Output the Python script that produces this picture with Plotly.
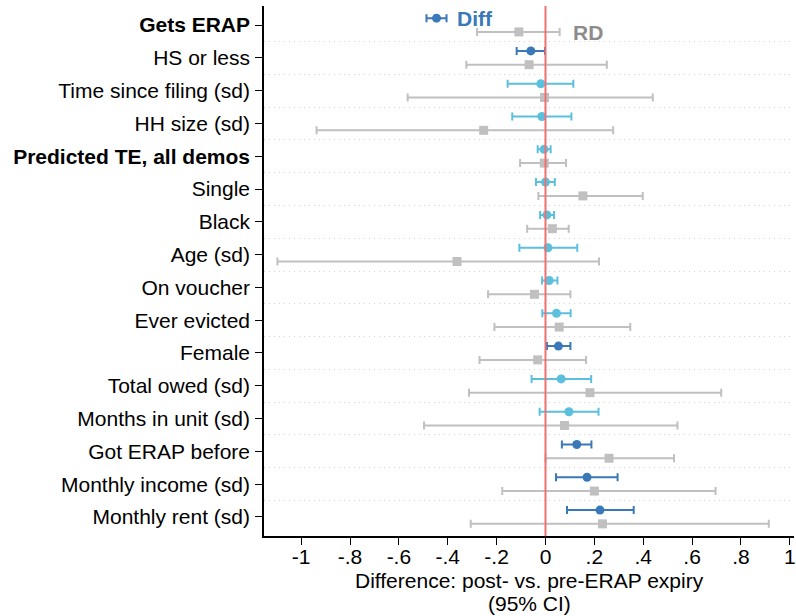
import plotly.graph_objects as go

# Row labels, top to bottom
labels = ["<b>Gets ERAP</b>", "HS or less", "Time since filing (sd)", "HH size (sd)",
          "<b>Predicted TE, all demos</b>", "Single", "Black", "Age (sd)", "On voucher",
          "Ever evicted", "Female", "Total owed (sd)", "Months in unit (sd)",
          "Got ERAP before", "Monthly income (sd)", "Monthly rent (sd)"]

# Diff: post- vs. pre-expiry difference with 95% CI (no estimate for Gets ERAP)
diff_est = [None, -0.060, -0.019, -0.015, -0.006, 0.000, 0.006, 0.010, 0.015,
            0.045, 0.053, 0.064, 0.096, 0.128, 0.170, 0.223]
diff_lo = [None, -0.118, -0.155, -0.136, -0.032, -0.039, -0.022, -0.107, -0.014,
           -0.013, 0.006, -0.057, -0.024, 0.067, 0.043, 0.088]
diff_hi = [None, -0.002, 0.114, 0.106, 0.021, 0.038, 0.035, 0.130, 0.049,
           0.103, 0.102, 0.187, 0.217, 0.188, 0.295, 0.361]

# RD estimates with 95% CI
rd_est = [-0.109, -0.067, -0.004, -0.253, -0.005, 0.153, 0.028, -0.362, -0.045,
          0.056, -0.032, 0.182, 0.078, 0.260, 0.200, 0.233]
rd_lo = [-0.280, -0.324, -0.564, -0.937, -0.104, -0.029, -0.075, -1.097, -0.235,
         -0.209, -0.270, -0.313, -0.497, 0.000, -0.177, -0.306]
rd_hi = [0.058, 0.251, 0.439, 0.277, 0.084, 0.398, 0.095, 0.219, 0.102,
         0.347, 0.166, 0.719, 0.540, 0.526, 0.696, 0.914]

# Key marker for the Diff series
key_est, key_lo, key_hi = [-0.446], [-0.487], [-0.405]

x_tickvals = [-1, -0.8, -0.6, -0.4, -0.2, 0, 0.2, 0.4, 0.6, 0.8, 1]
x_ticktext = ["-1", "-.8", "-.6", "-.4", "-.2", "0", ".2", ".4", ".6", ".8", "1"]

DARK = "#3a78b8"
LIGHT = "#5bc0de"
GRAY = "#c0c0c0"
OFF = 0.21
FONT = "Liberation Sans, Arial, sans-serif"
FS = 21

n = len(labels)
rows = list(range(n))


def ci_trace(xs, lo, hi, ys, color, symbol):
    return go.Scatter(
        x=xs, y=ys, mode="markers",
        marker=dict(symbol=symbol, size=9, color=color),
        error_x=dict(type="data", symmetric=False,
                     array=[h - e for e, h in zip(xs, hi)],
                     arrayminus=[e - l for e, l in zip(xs, lo)],
                     color=color, thickness=2, width=4),
        showlegend=False, hoverinfo="skip",
    )


fig = go.Figure()

# RD series (gray squares, below each row tick)
fig.add_trace(ci_trace(rd_est, rd_lo, rd_hi, [r + OFF for r in rows], GRAY, "square"))

# Diff series split by whether the CI excludes zero
sig = {"x": [], "lo": [], "hi": [], "y": []}
nsig = {"x": [], "lo": [], "hi": [], "y": []}
for r, e, lo, hi in zip(rows, diff_est, diff_lo, diff_hi):
    if e is None:
        continue
    d = sig if (hi < 0 or lo > 0) else nsig
    d["x"].append(e); d["lo"].append(lo); d["hi"].append(hi); d["y"].append(r - OFF)

fig.add_trace(ci_trace(nsig["x"], nsig["lo"], nsig["hi"], nsig["y"], LIGHT, "circle"))
fig.add_trace(ci_trace(sig["x"], sig["lo"], sig["hi"], sig["y"], DARK, "circle"))

# Series key
fig.add_trace(ci_trace(key_est, key_lo, key_hi, [0 - OFF], DARK, "circle"))
fig.add_annotation(x=-0.37, y=0 - OFF, text="<b>Diff</b>", showarrow=False,
                   xanchor="left", yanchor="middle",
                   font=dict(family=FONT, size=FS, color=DARK))
fig.add_annotation(x=0.105, y=0 + OFF + 0.02, text="<b>RD</b>", showarrow=False,
                   xanchor="left", yanchor="middle",
                   font=dict(family=FONT, size=FS, color="#8c8c8c"))

# X-axis title, two lines
fig.add_annotation(xref="x domain", yref="y domain", x=0.5, y=0, yshift=-44,
                   text="Difference: post- vs. pre-ERAP expiry", showarrow=False,
                   xanchor="center", yanchor="middle", font=dict(size=FS))
fig.add_annotation(xref="x domain", yref="y domain", x=0.5, y=0, yshift=-67,
                   text="(95% CI)", showarrow=False,
                   xanchor="center", yanchor="middle", font=dict(size=FS))

# Zero reference line
fig.add_shape(type="line", xref="x", yref="paper", x0=0, x1=0, y0=0, y1=1,
              line=dict(color="#f07070", width=2), layer="above")

fig.update_layout(
    width=796, height=616,
    margin=dict(l=264, r=0, t=6, b=80),
    plot_bgcolor="white", paper_bgcolor="white",
    font=dict(family=FONT, size=FS, color="black"),
    xaxis=dict(
        range=[-1.152, 1.017], tickvals=x_tickvals, ticktext=x_ticktext,
        showgrid=False, zeroline=False,
        showline=True, linecolor="black", linewidth=1.5,
        ticks="outside", ticklen=7, tickcolor="black", tickwidth=1.2,
        tickfont=dict(size=FS), ticklabelstandoff=-6, ticklabeloverflow="allow",
    ),
    yaxis=dict(
        range=[n - 1 + 0.58, -0.58], tickvals=rows, ticktext=labels,
        showgrid=False, zeroline=False,
        showline=True, linecolor="black", linewidth=1.5,
        ticks="outside", ticklen=7, tickcolor="black", tickwidth=1.2,
        tickfont=dict(size=FS), ticklabelstandoff=1,
        minor=dict(tickvals=[r + 0.5 for r in rows[:-1]], showgrid=True,
                   gridcolor="#d4d4d4", griddash="1px,4px", gridwidth=1, ticklen=0),
    ),
)

fig.write_html("out.html")
